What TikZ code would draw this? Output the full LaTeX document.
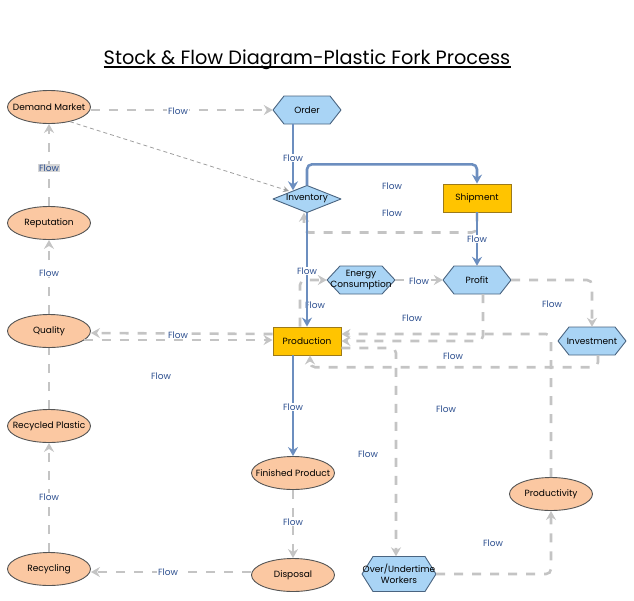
\documentclass[tikz,border=0pt]{standalone}
\usepackage{fontspec}
\setmainfont{Poppins}
\usetikzlibrary{arrows.meta,shapes.geometric}
\definecolor{peach}{HTML}{FBC8A2}
\definecolor{skyb}{HTML}{A9D4F5}
\definecolor{goldf}{HTML}{FFC400}
\definecolor{goldline}{HTML}{9C7A1A}
\definecolor{hexline}{HTML}{4A6480}
\definecolor{bluel}{HTML}{6C8EBF}
\definecolor{grayl}{HTML}{C4C4C4}
\definecolor{labc}{HTML}{2E5090}
\definecolor{edgec}{HTML}{555555}
\tikzset{
  ntext/.style={font=\fontsize{9}{10.5}\selectfont, text=black, align=center},
  ell/.style={ellipse, draw=edgec, fill=peach, line width=0.9pt, minimum width=83pt, minimum height=33pt, inner sep=0pt},
  hexsty/.style={draw=hexline, fill=skyb, line width=0.9pt, line join=round},
  hexn/.style={rectangle, inner sep=0pt, ntext},
  boxn/.style={rectangle, draw=goldline, fill=goldf, line width=0.9pt, minimum width=68pt, minimum height=28pt, inner sep=0pt, ntext},
  bflow/.style={draw=bluel, line width=2.6pt, -{Stealth[length=9pt,width=10pt,inset=3pt]}, rounded corners=5pt},
  gflow/.style={draw=grayl, line width=2.6pt, dash pattern=on 9pt off 9pt, -{Stealth[length=9pt,width=10pt,inset=3pt]}, rounded corners=5pt},
  thinflow/.style={draw=gray!75, line width=0.8pt, dash pattern=on 4pt off 3pt, -{Stealth[length=6pt,width=6pt,inset=2pt]}},
  flab/.style={font=\fontsize{9}{10.5}\selectfont, text=labc, fill=white, inner sep=1pt},
  flabn/.style={font=\fontsize{9}{10.5}\selectfont, text=labc, inner sep=1pt},
}
\newcommand\hexnode[7]{%
  \path[hexsty] ({#2-#4/2},#3) -- ({#2-#4/2+#6},{#3-#5/2}) -- ({#2+#4/2-#6},{#3-#5/2}) -- ({#2+#4/2},#3) -- ({#2+#4/2-#6},{#3+#5/2}) -- ({#2-#4/2+#6},{#3+#5/2}) -- cycle;
  \node[hexn, minimum width=#4pt, minimum height=#5pt] (#1) at (#2,#3) {#7};}
\newcommand\dianode[6]{%
  \path[hexsty] ({#2-#4/2},#3) -- (#2,{#3-#5/2}) -- ({#2+#4/2},#3) -- (#2,{#3+#5/2}) -- cycle;
  \node[hexn, minimum width=#4pt, minimum height=#5pt] (#1) at (#2,#3) {#6};}
\begin{document}
\begin{tikzpicture}[x=1pt,y=-1pt]
\useasboundingbox (0,0) rectangle (634,600);
% title
\node[font=\fontsize{19.3}{22}\selectfont, inner sep=0pt, anchor=base] (title) at (307,64) {Stock \& Flow Diagram-Plastic Fork Process};
\draw[line width=1.5pt] ([yshift=-3pt]title.base west) -- ([yshift=-3pt]title.base east);
% ellipses
\node[ell, label={[ntext]center:Demand Market}] (dm) at (49,107) {};
\node[ell, label={[ntext]center:Reputation}] (rep) at (49,223) {};
\node[ell, label={[ntext]center:Quality}] (qual) at (49,331) {};
\node[ell, label={[ntext]center:Recycled Plastic}] (rp) at (49,426) {};
\node[ell, label={[ntext]center:Recycling}] (recy) at (49,569) {};
\node[ell, label={[ntext]center:Finished Product}] (fin) at (293,473) {};
\node[ell, label={[ntext]center:Disposal}] (disp) at (293,575) {};
\node[ell, label={[ntext]center:Productivity}] (prodty) at (551,494) {};
% hexagons, diamond, boxes
\hexnode{order}{307}{110}{68}{28}{11}{Order}
\dianode{inv}{307}{199}{68}{27}{Inventory}
\node[boxn] (ship) at (477,198) {Shipment};
\hexnode{energy}{361}{280}{68}{28}{13}{Energy\\Consumption}
\hexnode{profit}{477}{280}{68}{28}{11}{Profit}
\hexnode{invest}{592}{341}{68}{28}{11}{Investment}
\node[boxn] (prod) at (307,341) {Production};
\hexnode{over}{399}{574}{74}{35}{11}{Over/Undertime\\Workers}
\coordinate (invhit) at (289,191);
% label drawn beneath the lines
\node[flabn] (l9) at (315,305) {Flow};
% connectors
\draw[gflow] (dm.east |- order.west) -- (order.west);
\draw[thinflow] (dm.-35) -- (invhit);
\draw[bflow] ([xshift=-14pt]order.south) -- ([xshift=-14pt,yshift=-5pt]inv.north);
\draw[bflow] (inv.north) -- ++(0,-21) -| (ship.north);
\draw[gflow] (ship.south) -- ++(0,20) -| ([xshift=-3pt]inv.south);
\draw[bflow] (ship) -- (profit);
\draw[bflow] (inv) -- (prod);
\draw[gflow] ([xshift=-7pt]prod.north) |- (energy.west);
\draw[gflow] (energy) -- (profit);
\draw[gflow] (profit.east) -| (invest.north);
\draw[gflow] ([xshift=6pt]profit.south) |- (prod.east);
\draw[gflow] (prodty.north) |- ([yshift=7pt]prod.east);
\draw[gflow] ([yshift=-7pt]prod.east) -| ([xshift=-3pt]over.north);
\draw[gflow] ([xshift=6pt]invest.south) -- ++(0,12) -| ([xshift=3pt]prod.south);
\draw[gflow] (over.east) -| (prodty.south);
\draw[gflow] ([yshift=7pt]prod.west) -- ([yshift=-2pt]qual.east);
\draw[gflow] ([xshift=-7pt,yshift=-9pt]qual.east) -- ([yshift=1pt]prod.west);
\draw[gflow] (qual) -- (rep);
\draw[gflow] (rep) -- (dm);
\draw[gflow, -] (rp) -- (qual);
\draw[gflow] (recy) -- (rp);
\draw[gflow] ([yshift=3pt]disp.west) -- ([yshift=-3pt]recy.east);
\draw[gflow] (fin) -- (disp);
\draw[bflow] ([xshift=-14pt]prod.south) -- (fin.north);
% labels
\node[flab] (l1) at (178,111) {Flow};
\node[flab] (l2) at (293,158) {Flow};
\node[flab, fill=grayl!70] (l3) at (49,168) {Flow};
\node[flab] (l4) at (392,186) {Flow};
\node[flab] (l5) at (392,213) {Flow};
\node[flab] (l6) at (477,239) {Flow};
\node[flab] (l7) at (49,273) {Flow};
\node[flab] (l8) at (307,271) {Flow};
\node[flab] (l10) at (419,281) {Flow};
\node[flab] (l11) at (552,304) {Flow};
\node[flab] (l12) at (412,318) {Flow};
\node[flab] (l13) at (178,335) {Flow};
\node[flab] (l14) at (453,356) {Flow};
\node[flab] (l15) at (161,376) {Flow};
\node[flab] (l16) at (293,407) {Flow};
\node[flab] (l17) at (446,409) {Flow};
\node[flab] (l18) at (368,454) {Flow};
\node[flab] (l19) at (49,497) {Flow};
\node[flab] (l20) at (293,522) {Flow};
\node[flab] (l21) at (493,543) {Flow};
\node[flab] (l22) at (168,572) {Flow};
\end{tikzpicture}
\end{document}
